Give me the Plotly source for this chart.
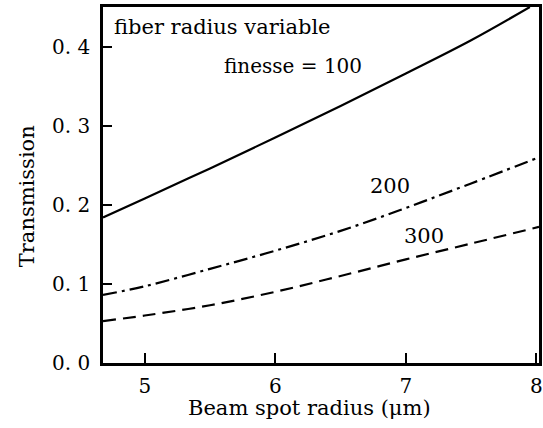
import plotly.graph_objects as go

beam_radius_100 = [4.68, 5.0, 5.5, 6.0, 6.5, 7.0, 7.5, 7.95]
trans_f100 = [0.184, 0.208, 0.246, 0.285, 0.325, 0.366, 0.408, 0.450]
beam_radius = [4.68, 5.0, 5.5, 6.0, 6.5, 7.0, 7.5, 8.02]
trans_f200 = [0.086, 0.097, 0.119, 0.142, 0.167, 0.196, 0.227, 0.260]
trans_f300 = [0.053, 0.060, 0.073, 0.090, 0.110, 0.131, 0.151, 0.172]

x_ticks = [5, 6, 7, 8]
y_ticks = [0.0, 0.1, 0.2, 0.3, 0.4]
y_ticktext = ["0. 0", "0. 1", "0. 2", "0. 3", "0. 4"]

font = "DejaVu Serif"

fig = go.Figure()
fig.add_trace(go.Scatter(x=beam_radius_100, y=trans_f100, mode="lines",
                         line=dict(color="black", width=2.2, shape="spline")))
fig.add_trace(go.Scatter(x=beam_radius, y=trans_f200, mode="lines",
                         line=dict(color="black", width=2.2, dash="14px,5px,3px,5px", shape="spline")))
fig.add_trace(go.Scatter(x=beam_radius, y=trans_f300, mode="lines",
                         line=dict(color="black", width=2.2, dash="13px,7px", shape="spline")))

fig.add_annotation(x=0.021, y=0.982, xref="paper", yref="paper", text="fiber radius variable",
                   showarrow=False, xanchor="left", yanchor="top",
                   font=dict(family=font, size=21, color="black"))
fig.add_annotation(x=0.272, y=0.835, xref="paper", yref="paper", text="finesse = 100",
                   showarrow=False, xanchor="left", yanchor="middle",
                   font=dict(family=font, size=20, color="black"))
fig.add_annotation(x=6.88, y=0.224, text="200", showarrow=False, xanchor="center", yanchor="middle",
                   font=dict(family=font, size=21, color="black"))
fig.add_annotation(x=7.14, y=0.161, text="300", showarrow=False, xanchor="center", yanchor="middle",
                   font=dict(family=font, size=21, color="black"))
fig.add_annotation(x=-0.174, y=0.469, xref="paper", yref="paper", text="Transmission",
                   showarrow=False, textangle=-90, xanchor="center", yanchor="middle",
                   font=dict(family=font, size=21, color="black"))
fig.add_annotation(x=0.474, y=-0.126, xref="paper", yref="paper", text="Beam spot radius (μm)",
                   showarrow=False, xanchor="center", yanchor="middle",
                   font=dict(family=font, size=21, color="black"))

fig.update_layout(
    width=543, height=428,
    margin=dict(l=103, r=4, t=7, b=65),
    paper_bgcolor="white", plot_bgcolor="white",
    showlegend=False,
    font=dict(family=font, color="black"),
)
fig.update_xaxes(range=[4.68, 8.02], tickvals=x_ticks, ticks="inside",
                 ticklen=10, tickwidth=2, tickcolor="black", showline=True, linecolor="black",
                 linewidth=2.5, mirror=True, showgrid=False, zeroline=False,
                 tickfont=dict(family=font, size=20), ticklabelstandoff=3,
                 ticklabeloverflow="allow", automargin=False)
fig.update_yaxes(range=[0, 0.45], tickvals=y_ticks, ticktext=y_ticktext, ticks="inside", ticklen=9,
                 tickwidth=2, tickcolor="black", showline=True, linecolor="black", linewidth=2.5,
                 mirror=True, showgrid=False, zeroline=False, tickfont=dict(family=font, size=20),
                 ticklabelstandoff=6, automargin=False)

fig.write_html("out.html")
